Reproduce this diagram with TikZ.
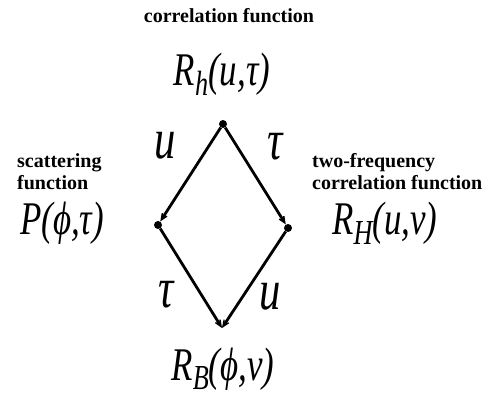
\documentclass[tikz,border=0pt]{standalone}
\usepackage{fontspec}
\setmainfont{Liberation Serif}
\usetikzlibrary{arrows.meta}

\newcommand{\lowsub}[1]{\raisebox{-7pt}{\fontsize{27}{27}\selectfont #1}}
\newcommand{\tall}[1]{\scalebox{0.97}[1.3]{#1}}

\begin{document}
\begin{tikzpicture}[x=1pt,y=1pt,
  caption/.style={font=\bfseries\fontsize{20}{22}\selectfont,inner sep=0pt,align=left},
  func/.style={font=\itshape\fontsize{36}{36}\selectfont,inner sep=0pt},
  var/.style={font=\itshape\fontsize{44}{44}\selectfont,inner sep=0pt},
  vertex/.style={circle,fill,inner sep=0pt,minimum size=8pt},
  map/.style={line width=2.8pt,-{Stealth[length=14pt,width=12pt,inset=9pt]}}]
 \useasboundingbox (0,0) rectangle (488,397);
 % the four functions
 \node[func,anchor=base] (Rh) at (222,311) {\tall{R\lowsub{h}(u,τ)}};
 \node[func,anchor=base] (P) at (62,162) {\tall{P(ϕ,τ)}};
 \node[func,anchor=base] (RH) at (385,162) {\tall{R\lowsub{H}(u,v)}};
 \node[func,anchor=base] (RB) at (223,17) {\tall{R\lowsub{B}(ϕ,v)}};
 % their names
 \node[caption,anchor=base] (nRh) at (229,374) {correlation function};
 \node[caption,anchor=north west] (nP) at (17,244) {scattering\\function};
 \node[caption,anchor=north west] (nRH) at (312,244) {two-frequency\\correlation function};
 % the diamond
 \node[vertex] (T) at (223,273) {};
 \node[vertex] (L) at (158,172) {};
 \node[vertex] (R) at (288,169) {};
 \coordinate (B) at (222,69);
 \draw[map] (T) -- (L);
 \draw[map] (T) -- (R);
 \draw[map] (L) -- (B);
 \draw[map] (R) -- (B);
 % transform variables
 \node[var] (v1) at (165,251) {\tall{u}};
 \node[var] (v2) at (275,250) {\tall{τ}};
 \node[var] (v3) at (166,102) {\tall{τ}};
 \node[var] (v4) at (270,100) {\tall{u}};
\end{tikzpicture}
\end{document}
